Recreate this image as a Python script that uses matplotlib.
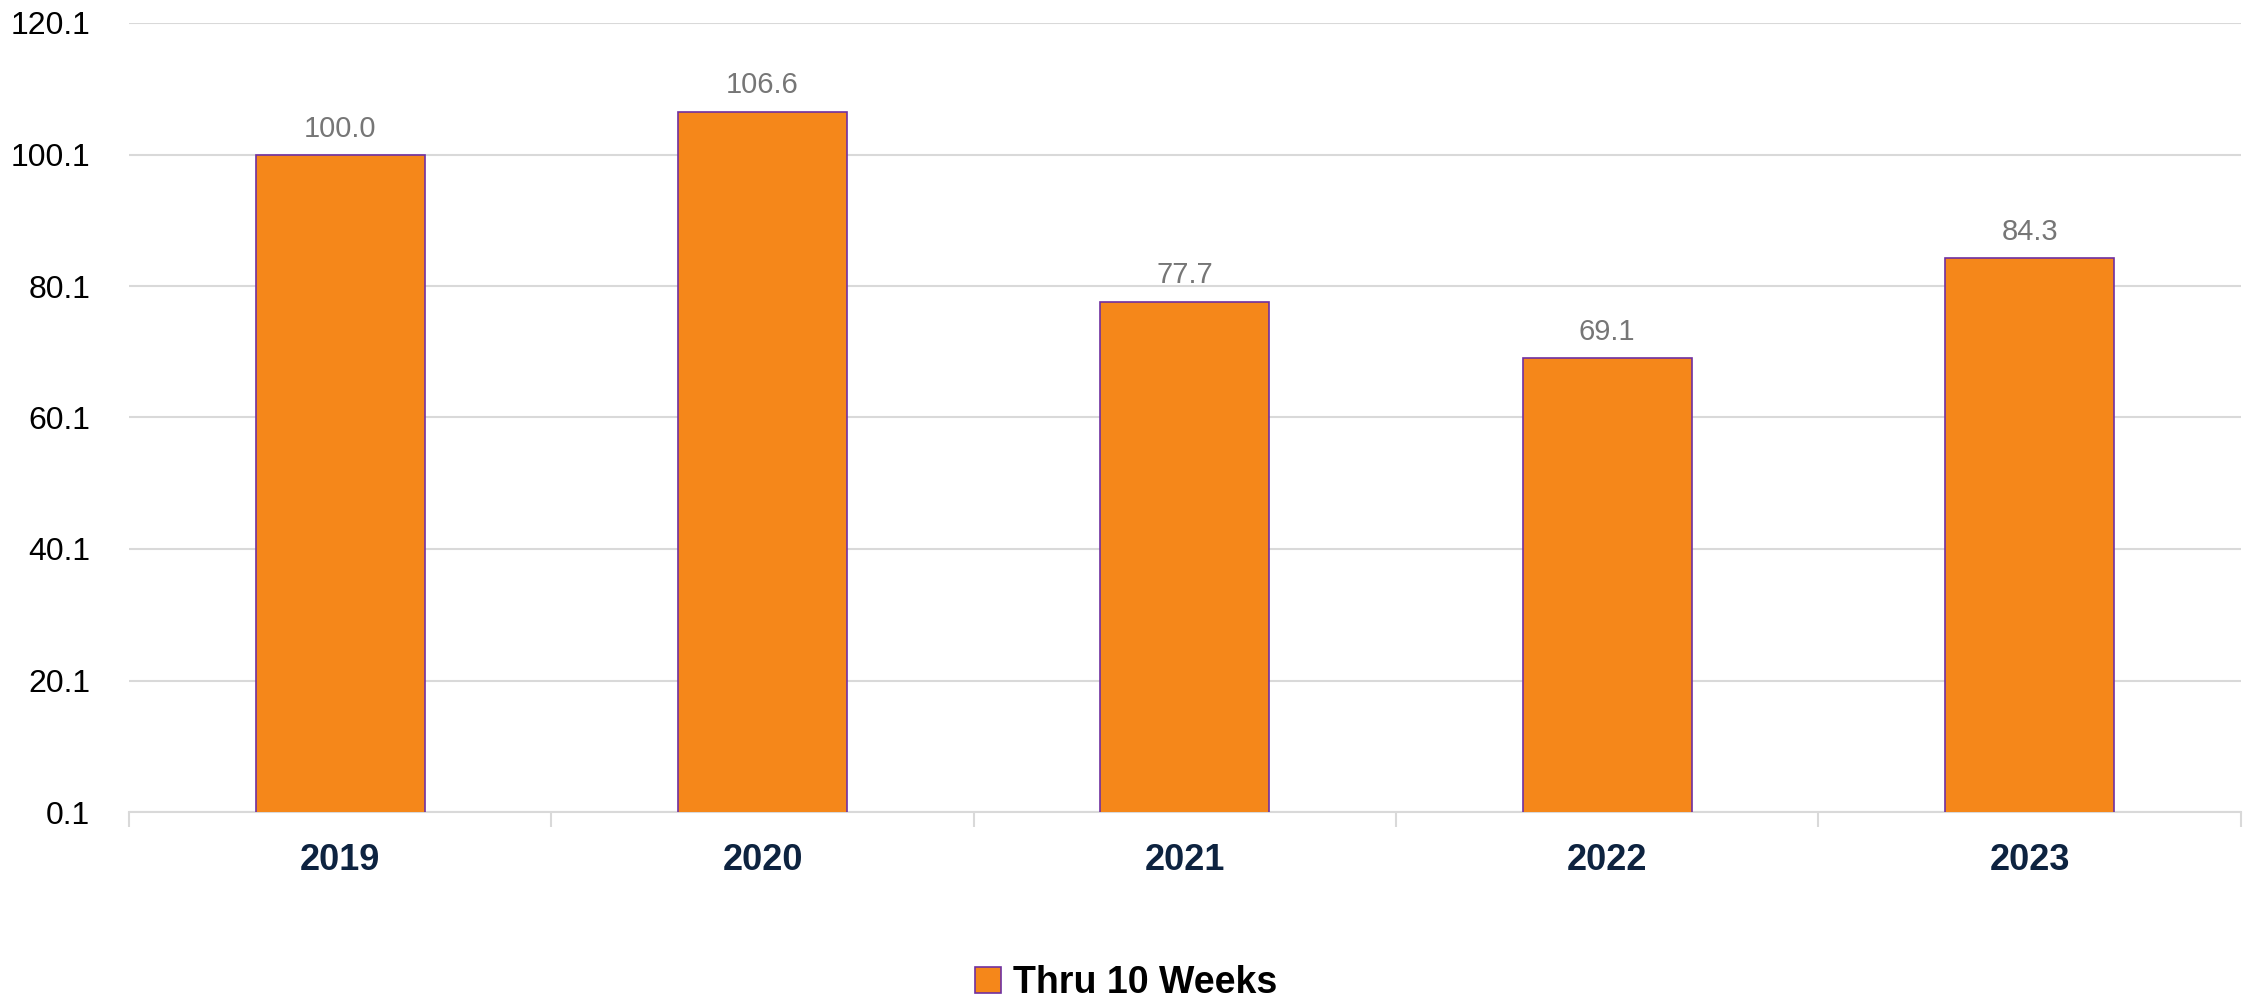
import numpy as np
import matplotlib.pyplot as plt

plt.rcParams['font.family'] = ['Liberation Sans', 'DejaVu Sans']

# Datos
years = ["2019", "2020", "2021", "2022", "2023"]
values = [100.0, 106.6, 77.7, 69.1, 84.3]
yticks = [0.1, 20.1, 40.1, 60.1, 80.1, 100.1, 120.1]
serie = "Thru 10 Weeks"

fig = plt.figure(figsize=(22.52, 10), dpi=100)
ax = fig.add_axes([0.0573, 0.188, 0.9377, 0.789])

x = np.arange(len(years))
bars = ax.bar(x, values, width=0.40, color='#F5871A', edgecolor='#7030A0',
              linewidth=1.2, label=serie, zorder=3)

for b, v in zip(bars, values):
    ax.annotate(f"{v:.1f}", (b.get_x() + b.get_width() / 2, v),
                xytext=(0, 9), textcoords='offset points', ha='center', va='bottom',
                fontsize=21, color='#767676')

ax.set_xlim(-0.5, len(years) - 0.5)
ax.set_ylim(0.1, 120.1)
ax.set_yticks(yticks)
ax.set_yticklabels([f"{t:.1f}" for t in yticks], fontsize=23, color='black')
ax.yaxis.grid(True, color='#d9d9d9', linewidth=1.5, zorder=0)
ax.tick_params(axis='y', length=0, pad=28)

# Etiquetas de categoría y marcas entre categorías
ax.set_xticks(x)
ax.set_xticklabels(years, fontsize=26, fontweight='bold', color='#0d2340')
ax.tick_params(axis='x', which='major', length=0, pad=22)
ax.set_xticks(np.arange(-0.5, len(years)), minor=True)
ax.tick_params(axis='x', which='minor', length=11, width=1.5, color='#d9d9d9')

for s in ['top', 'right', 'left']:
    ax.spines[s].set_visible(False)
ax.spines['bottom'].set_color('#d9d9d9')
ax.spines['bottom'].set_linewidth(1.5)

fig.legend(loc='lower center', bbox_to_anchor=(0.5, -0.035), frameon=False,
           prop={'size': 27, 'weight': 'bold'}, handlelength=0.7, handleheight=0.7,
           handletextpad=0.3)

fig.savefig("out.png", dpi=100)
